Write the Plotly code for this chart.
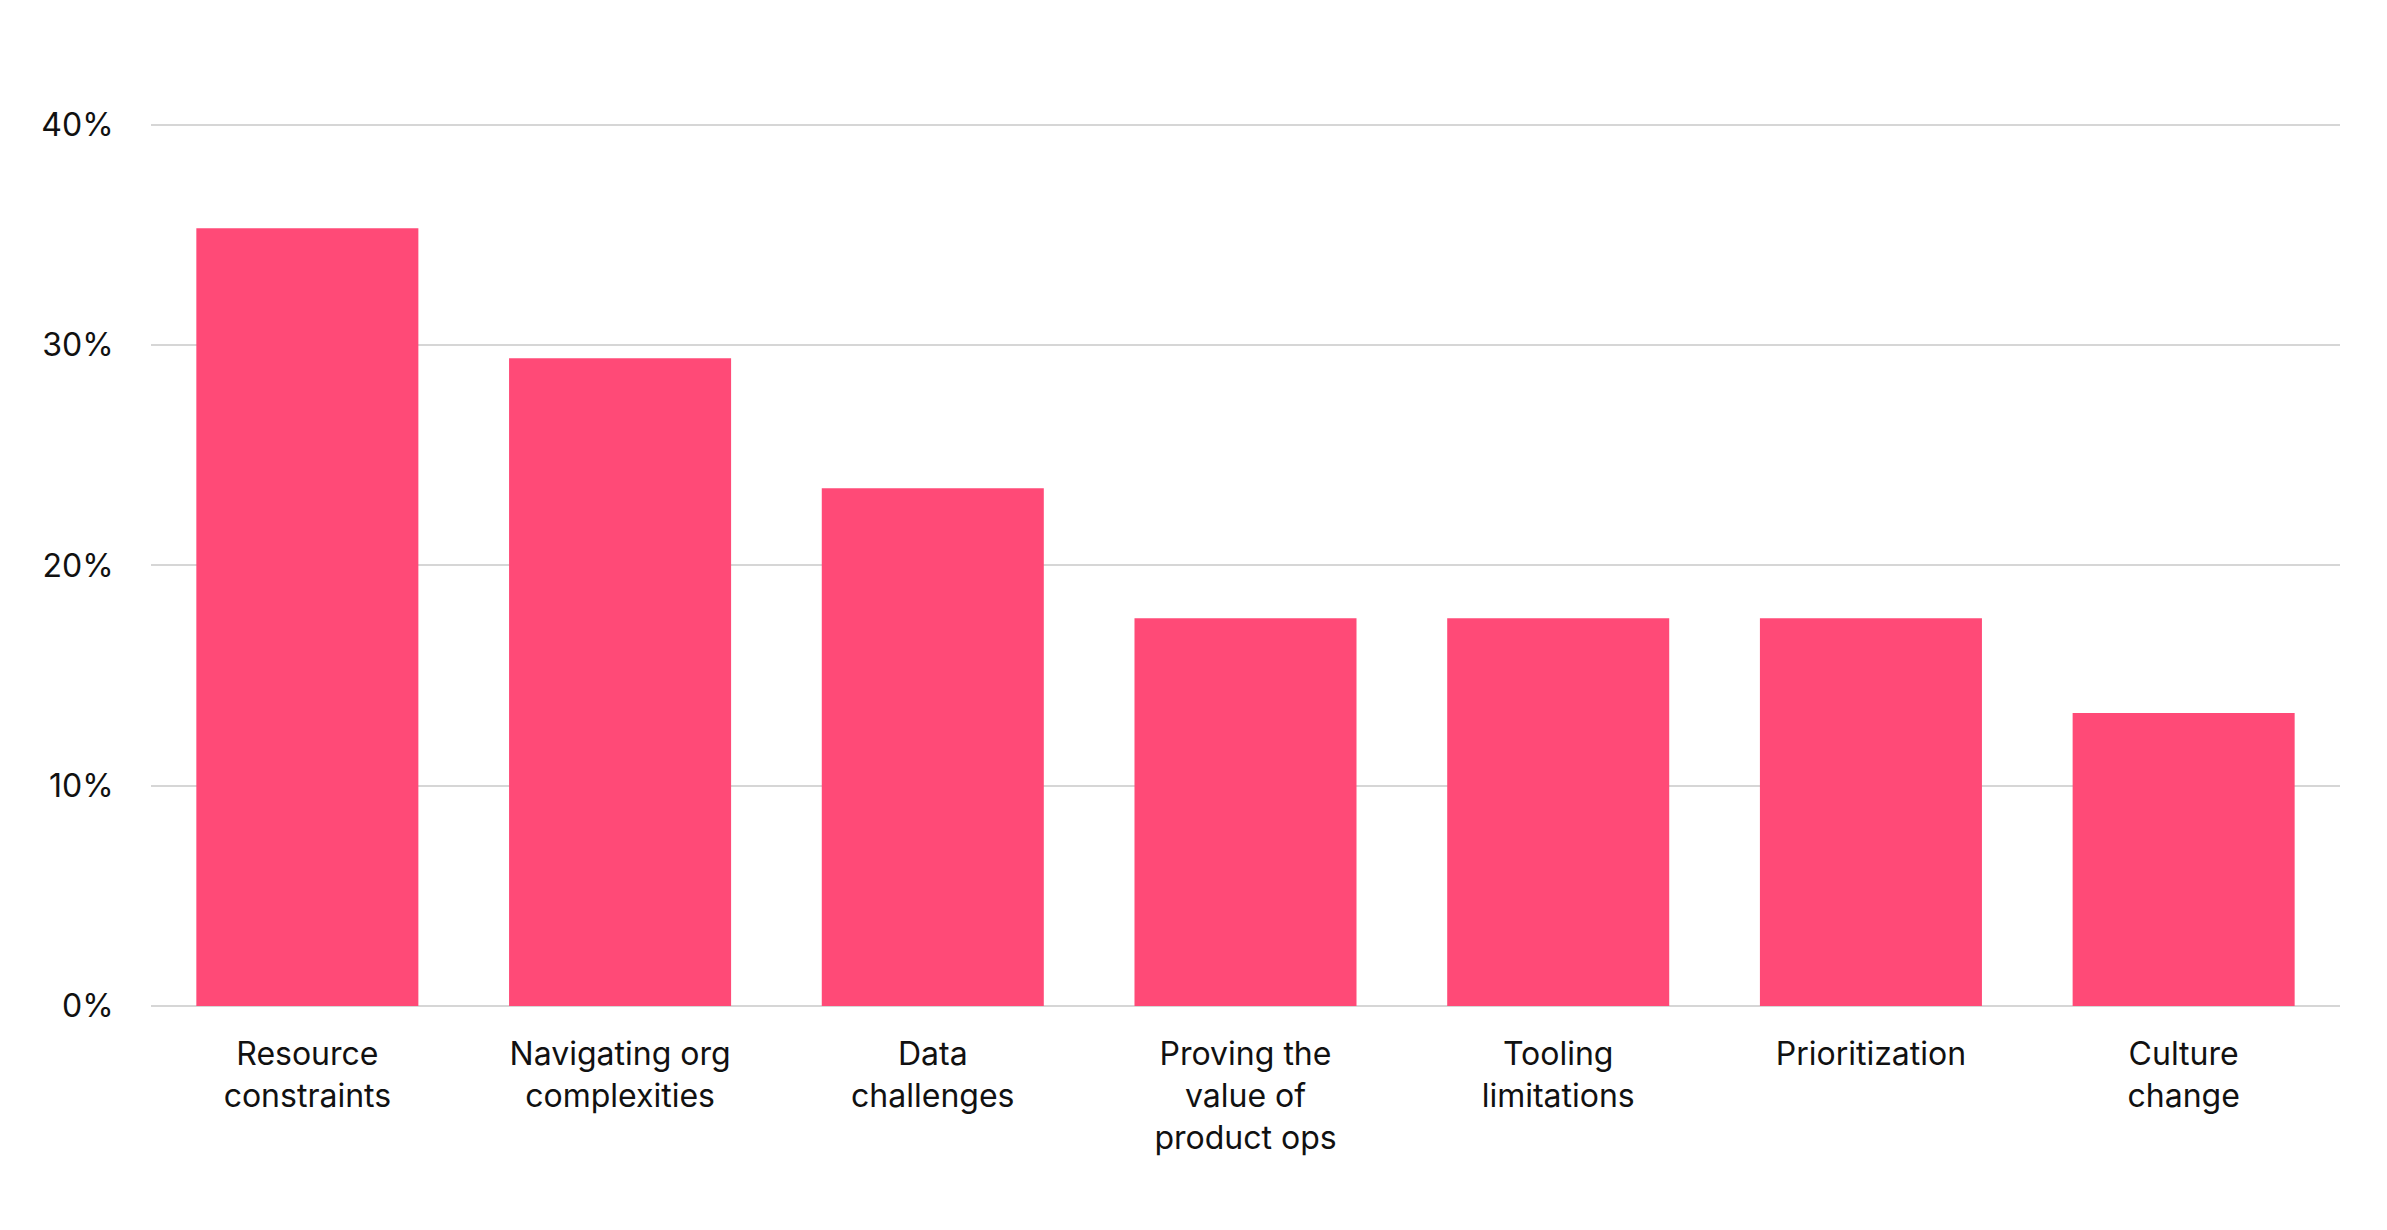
import plotly.graph_objects as go

categories = ["Resource<br>constraints", "Navigating org<br>complexities", "Data<br>challenges",
              "Proving the<br>value of<br>product ops", "Tooling<br>limitations",
              "Prioritization", "Culture<br>change"]
values = [35.3, 29.4, 23.5, 17.6, 17.6, 17.6, 13.3]
y_ticks = [0, 10, 20, 30, 40]
y_labels = ["0%", "10%", "20%", "30%", "40%"]

fig = go.Figure(go.Bar(x=categories, y=values, marker_color="#FF4A77", marker_line_width=0))

fig.update_layout(
    width=2387, height=1230,
    plot_bgcolor="white", paper_bgcolor="white",
    font=dict(family="Inter", size=32, color="#111111"),
    margin=dict(l=143, r=55, t=110, b=232),
    bargap=0.29, showlegend=False,
)
fig.update_yaxes(range=[0, 40.3], tickvals=y_ticks, ticktext=y_labels, tickmode="array",
                 showgrid=True, gridcolor="#D6D6D6", gridwidth=2, zeroline=True,
                 zerolinecolor="#D6D6D6", zerolinewidth=2,
                 ticks="outside", ticklen=30, tickcolor="white")
fig.update_xaxes(showline=False, ticks="outside", ticklen=20, tickcolor="white")

fig.write_html("out.html")
